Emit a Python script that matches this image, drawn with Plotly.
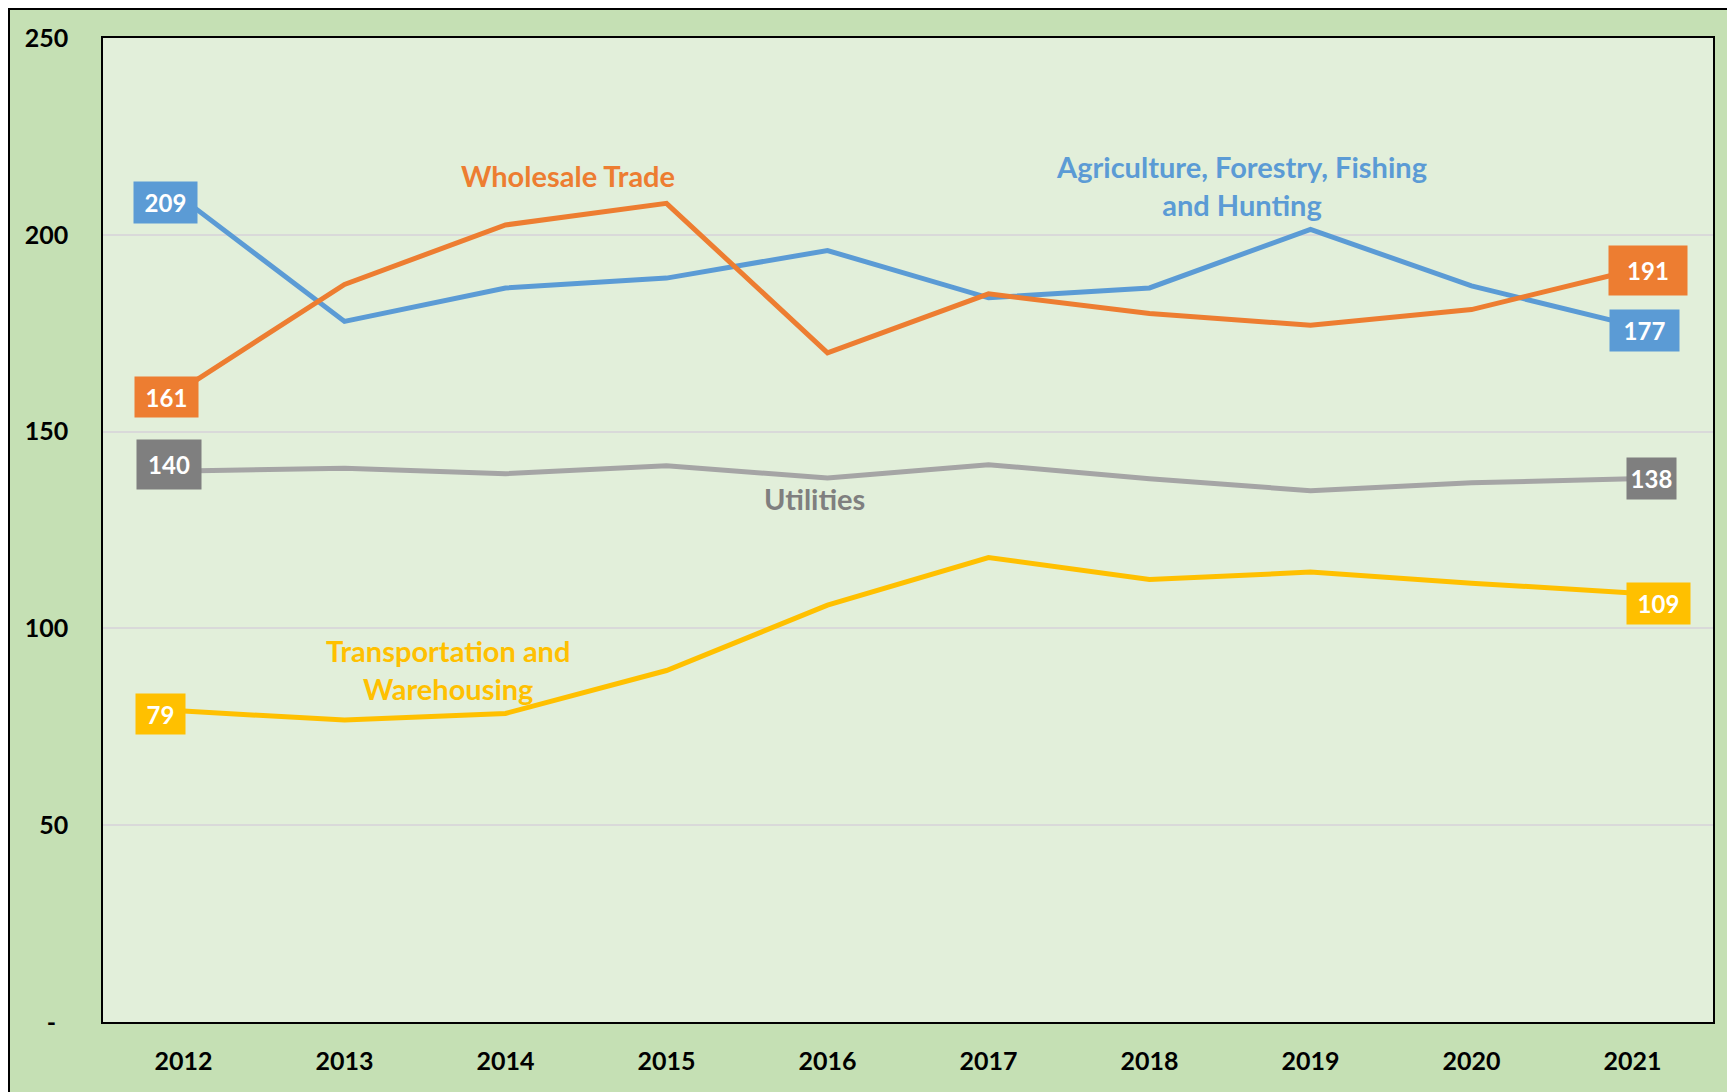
import plotly.graph_objects as go

years = ['2012', '2013', '2014', '2015', '2016', '2017', '2018', '2019', '2020', '2021']

agriculture = [209, 178, 186.5, 189, 196, 184, 186.5, 201.4, 187, 177]
wholesale = [161, 187.4, 202.5, 208, 170, 185, 180, 177, 181, 191]
utilities = [140, 140.7, 139.3, 141.3, 138.2, 141.6, 138, 135, 137, 138]
transport = [79, 76.7, 78.4, 89.3, 105.9, 118, 112.4, 114.3, 111.5, 109]

y_tickvals = [0, 50, 100, 150, 200, 250]
y_ticktext = ['-\u00a0\u00a0', '50', '100', '150', '200', '250']

FONT = 'Lato'
BLUE = '#5B9BD5'
ORANGE = '#ED7D31'
GRAY = '#A5A5A5'
GRAY_BOX = '#7F7F7F'
YELLOW = '#FFC000'

series = [
    ('Agriculture, Forestry, Fishing and Hunting', agriculture, BLUE, BLUE),
    ('Wholesale Trade', wholesale, ORANGE, ORANGE),
    ('Utilities', utilities, GRAY, GRAY_BOX),
    ('Transportation and Warehousing', transport, YELLOW, YELLOW),
]

fig = go.Figure()
for name, vals, color, _ in series:
    fig.add_trace(go.Scatter(
        x=years, y=vals, name=name, mode='lines',
        line=dict(color=color, width=5),
        showlegend=False, hoverinfo='skip'
    ))

# end-point value boxes: (series index, point index, xshift, yshift, box w, box h)
value_boxes = [
    (0, 0, -18, -3, 63, 41), (1, 0, -17, -9, 63, 40),
    (2, 0, -15, 6, 64, 49), (3, 0, -23, -3, 49, 40),
    (0, 9, 12, -5, 69, 41), (1, 9, 15, 0, 78, 49),
    (2, 9, 19, 0, 49, 41), (3, 9, 26, -11, 63, 41),
]
for si, pi, dx, dy, w, h in value_boxes:
    name, vals, _, box = series[si]
    fig.add_annotation(
        x=pi, y=vals[pi], text=str(round(vals[pi])),
        showarrow=False, xshift=dx, yshift=dy,
        xanchor='center', yanchor='middle',
        width=w - 4, height=h - 4, borderpad=2,
        bgcolor=box, font=dict(family=FONT, size=24, color='white', weight='bold')
    )

# plot area position inside the figure (px)
FW, FH = 1735, 1092
L, T, W, H = 95, 30, 1610, 984

# series names placed in the plot (page px centres)
series_labels = [
    ('Agriculture, Forestry, Fishing<br>and Hunting', 1241, 185, BLUE),
    ('Wholesale Trade', 568, 175, ORANGE),
    ('Utilities', 814, 498, GRAY_BOX),
    ('Transportation and<br>Warehousing', 448, 669, YELLOW),
]
for text, px_, py_, color in series_labels:
    fig.add_annotation(
        x=(px_ - 8 - L) / W, y=(T + H - (py_ - 8)) / H, xref='paper', yref='paper',
        xanchor='center', yanchor='middle',
        text=text, showarrow=False, align='center',
        font=dict(family=FONT, size=29, color=color, weight='bold')
    )

# black frame round the figure
fig.add_shape(type='rect', xref='paper', yref='paper', layer='above',
              x0=(1 - L) / W, x1=(FW + 20 - L) / W,
              y0=(T + H - FH - 20) / H, y1=(T + H - 1) / H,
              line=dict(color='black', width=2))

fig.update_layout(
    width=FW, height=FH,
    margin=dict(l=L, r=FW - L - W, t=T, b=FH - T - H),
    paper_bgcolor='#C5E0B4', plot_bgcolor='#E2EFDA',
    font=dict(family=FONT, color='black'),
)
fig.update_xaxes(
    type='category', range=[-0.5, 9.5], showgrid=False,
    showline=True, mirror=True, linecolor='black', linewidth=1.5,
    ticks='', ticklabelstandoff=16,
    tickfont=dict(family=FONT, size=25, color='black', weight='bold')
)
fig.update_yaxes(
    range=[0, 250], tickvals=y_tickvals, ticktext=y_ticktext,
    showgrid=True, gridcolor='#D9D9D9', gridwidth=2, zeroline=False,
    showline=True, mirror=True, linecolor='black', linewidth=1.5,
    ticks='', ticklabelstandoff=28,
    tickfont=dict(family=FONT, size=25, color='black', weight='bold')
)

fig.write_html('out.html')
